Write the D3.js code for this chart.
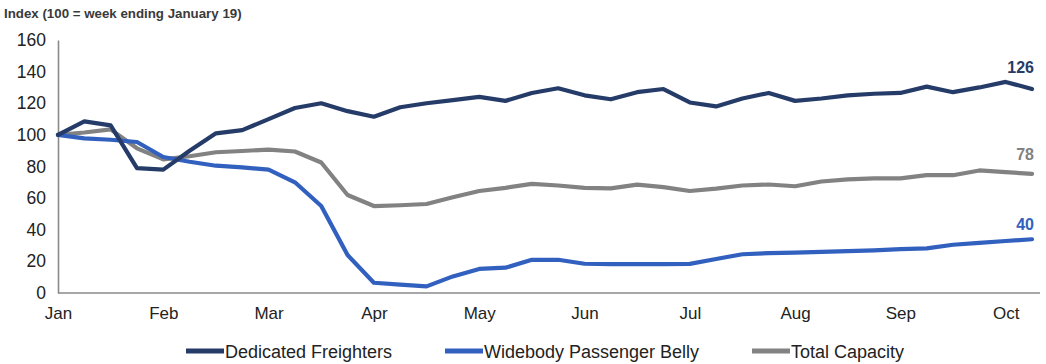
<!DOCTYPE html>
<html>
<head>
<meta charset="utf-8">
<script src="https://cdn.jsdelivr.net/npm/d3@7"></script>
<style>
  html, body { margin: 0; padding: 0; background: #ffffff; }
  svg { display: block; }
</style>
</head>
<body>
<svg id="chart" width="1046" height="364"></svg>
<script>
// ---- Data (weekly index, 100 = week ending January 19) ----
const monthLabels = ["Jan", "Feb", "Mar", "Apr", "May", "Jun", "Jul", "Aug", "Sep", "Oct"];
const monthTickWeeks = [0, 4, 8, 12, 16, 20, 24, 28, 32, 36];
const yTicks = [0, 20, 40, 60, 80, 100, 120, 140, 160];

const dedicatedFreighters = [
  100, 108.5, 106, 79, 78, 90, 101, 103, 110, 117,
  120, 115, 111.5, 117.5, 120, 122, 124, 121.5, 126.5, 129.5,
  125, 122.5, 127, 129, 120.5, 118, 123, 126.5, 121.5, 123,
  125, 126, 126.5, 130.5, 127, 130, 133.5, 129
];
const widebodyBelly = [
  100, 97.8, 96.9, 95.5, 86, 83, 80.5, 79.5, 78, 70,
  55, 24, 6.5, 5.3, 4.2, 10.5, 15.2, 16, 21, 21,
  18.5, 18.2, 18.2, 18.2, 18.4, 21.5, 24.5, 25.2, 25.5, 26,
  26.5, 27, 27.8, 28.2, 30.5, 31.7, 32.9, 34
];
const totalCapacity = [
  100, 101.5, 103.5, 91.5, 84.5, 86.5, 89, 89.8, 90.7, 89.5,
  82.5, 62, 55, 55.5, 56.3, 60.5, 64.5, 66.5, 69, 68,
  66.5, 66.2, 68.5, 67, 64.5, 66, 68, 68.6, 67.5, 70.5,
  71.8, 72.5, 72.5, 74.5, 74.5, 77.5, 76.5, 75.3
];
const seriesNames = ["Dedicated Freighters", "Widebody Passenger Belly", "Total Capacity"];
const seriesColors = ["#263c68", "#3160bf", "#828282"];
const endLabels = ["126", "40", "78"];

// ---- Layout ----
const svg = d3.select("#chart");
const margin = { left: 58, right: 14, top: 40, bottom: 71 };
const W = 1046, H = 364;

const x = d3.scaleLinear()
  .domain([0, dedicatedFreighters.length - 1])
  .range([margin.left, W - margin.right]);
const y = d3.scaleLinear()
  .domain([0, 160])
  .range([H - margin.bottom, margin.top]);

const font = "'Liberation Sans', Arial, sans-serif";
const narrow = "'Liberation Sans Narrow', 'Arial Narrow', 'Liberation Sans', Arial, sans-serif";

// Title
svg.append("text")
  .attr("x", 4).attr("y", 18)
  .attr("font-family", narrow)
  .attr("font-weight", "bold")
  .attr("font-size", 13.3)
  .attr("fill", "#3a3a3a")
  .text("Index (100 = week ending January 19)");

// Y axis
const yAxis = svg.append("g")
  .attr("transform", `translate(${margin.left},0)`)
  .call(d3.axisLeft(y).tickValues(yTicks).tickSize(0).tickPadding(12));
yAxis.select(".domain").attr("stroke", "#8a8a8a").attr("stroke-width", 1.6);
yAxis.selectAll("text")
  .attr("font-family", font).attr("font-size", 17.5).attr("fill", "#222");

// X axis
const xAxis = svg.append("g")
  .attr("transform", `translate(0,${y(0)})`)
  .call(d3.axisBottom(x)
    .tickValues(monthTickWeeks)
    .tickFormat((d, i) => monthLabels[i])
    .tickSize(0).tickPadding(14));
xAxis.select(".domain")
  .attr("d", `M${x.range()[0]},0H${x.range()[1] + 8}`)
  .attr("stroke", "#8a8a8a").attr("stroke-width", 1.6);
xAxis.selectAll("text")
  .attr("font-family", font).attr("font-size", 17).attr("fill", "#222");

// Lines
const line = d3.line().x((d, i) => x(i)).y(d => y(d));
const allSeries = [dedicatedFreighters, widebodyBelly, totalCapacity];
const drawOrder = [2, 1, 0];
drawOrder.forEach(k => {
  svg.append("path")
    .datum(allSeries[k])
    .attr("fill", "none")
    .attr("stroke", seriesColors[k])
    .attr("stroke-width", 4.2)
    .attr("stroke-linejoin", "round")
    .attr("stroke-linecap", "round")
    .attr("d", line);
});

// End labels
const labelOffsets = [-16, -9, -14];
allSeries.forEach((s, k) => {
  const last = s.length - 1;
  svg.append("text")
    .attr("x", x(last) + 2)
    .attr("y", y(s[last]) + labelOffsets[k])
    .attr("text-anchor", "end")
    .attr("font-family", font)
    .attr("font-weight", "bold")
    .attr("font-size", 16)
    .attr("fill", seriesColors[k])
    .text(endLabels[k]);
});

// Legend
const legendX = [186, 445, 752];
const legend = svg.append("g").attr("transform", `translate(0, 351)`);
seriesNames.forEach((name, k) => {
  const g = legend.append("g").attr("transform", `translate(${legendX[k]},0)`);
  g.append("line")
    .attr("x1", 0).attr("x2", 38).attr("y1", 0).attr("y2", 0)
    .attr("stroke", seriesColors[k]).attr("stroke-width", 5);
  g.append("text")
    .attr("x", 39).attr("y", 6.5)
    .attr("font-family", font).attr("font-size", 18).attr("fill", "#222")
    .text(name);
});
</script>
</body>
</html>
